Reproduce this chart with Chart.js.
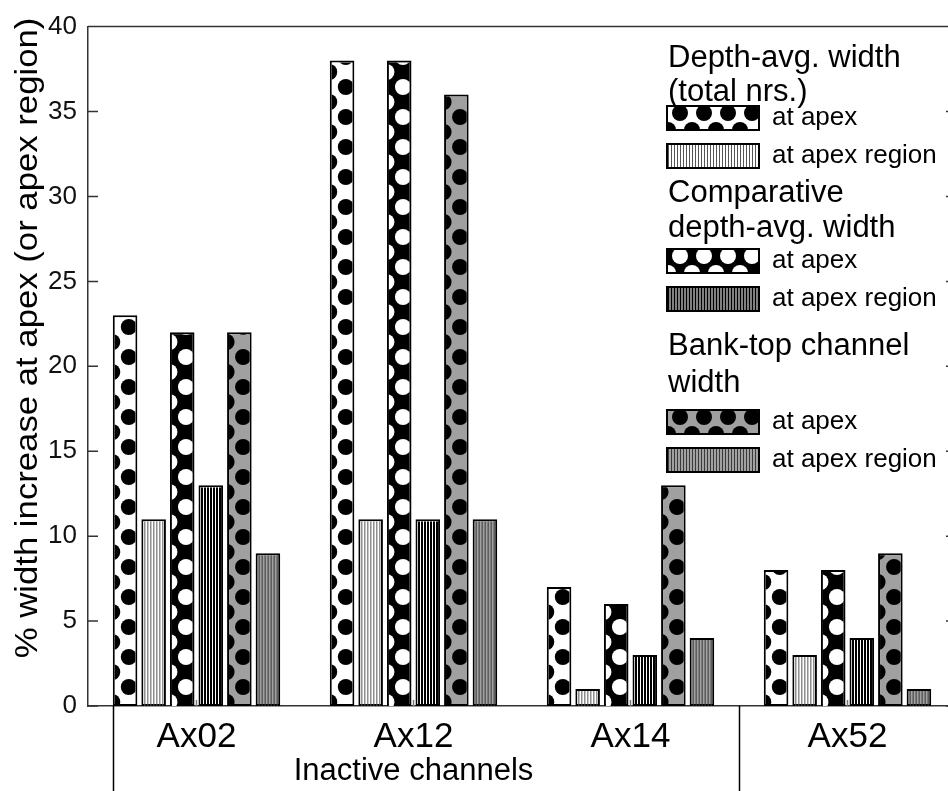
<!DOCTYPE html>
<html>
<head>
<meta charset="utf-8">
<script src="https://cdn.jsdelivr.net/npm/chart.js@4.4.1/dist/chart.umd.min.js"></script>
<style>
  html, body { margin: 0; padding: 0; background: #fff; overflow: hidden; }
  #wrap { width: 948px; height: 791px; overflow: hidden; }
  #box { width: 960px; height: 791px; position: relative; }
</style>
</head>
<body>
<div id="wrap"><div id="box"><canvas id="barChart"></canvas></div></div>
<script>
// values (% width increase)
const categories = ['Ax02', 'Ax12', 'Ax14', 'Ax52'];
const depthApex = [23, 38, 7, 8];
const depthRegion = [11, 11, 1, 3];
const compApex = [22, 38, 6, 8];
const compRegion = [13, 11, 3, 4];
const bankApex = [22, 36, 13, 9];
const bankRegion = [9, 11, 4, 1];

const yTitle = '% width increase at apex (or apex region)';
const groupTitle = 'Inactive channels';
const legendGroups = [
    ['Depth-avg. width', '(total nrs.)'],
    ['Comparative', 'depth-avg. width'],
    ['Bank-top channel', 'width']
];
const legendLabels = ['at apex', 'at apex region'];

const FONT = "'Liberation Sans', Arial, sans-serif";

// fill style for each series: dots or vertical hatching
const styles = [
    { bg: '#ffffff', kind: 'dots', fg: '#000000' },
    { bg: '#ffffff', kind: 'lines', fg: '#555555', lw: 1 },
    { bg: '#000000', kind: 'dots', fg: '#ffffff' },
    { bg: '#ffffff', kind: 'lines', fg: '#000000', lw: 2 },
    { bg: '#a0a0a0', kind: 'dots', fg: '#000000' },
    { bg: '#a0a0a0', kind: 'lines', fg: '#3a3a3a', lw: 1 }
];

// draw the pattern inside a bar (column layout)
function decorateBar(ctx, st, left, top, right, bottom) {
    ctx.save();
    ctx.beginPath();
    ctx.rect(left, top, right - left, bottom - top);
    ctx.clip();
    ctx.fillStyle = st.fg;
    if (st.kind === 'dots') {
        for (let yy = bottom - 19; yy > top - 20; yy -= 30) {
            ctx.beginPath();
            ctx.arc(left + 14, yy, 8, 0, Math.PI * 2);
            ctx.fill();
            ctx.beginPath();
            ctx.arc(left - 2.5, yy + 15, 8, 0, Math.PI * 2);
            ctx.fill();
        }
    } else {
        ctx.strokeStyle = st.fg;
        ctx.lineWidth = st.lw;
        for (let xx = left + 1.5; xx < right; xx += 3) {
            ctx.beginPath();
            ctx.moveTo(xx, top);
            ctx.lineTo(xx, bottom);
            ctx.stroke();
        }
    }
    ctx.restore();
}

// pattern in the legend swatches (row layout)
function decorateSwatch(ctx, st, x, y, w, h) {
    ctx.save();
    ctx.fillStyle = st.bg;
    ctx.fillRect(x, y, w, h);
    ctx.beginPath();
    ctx.rect(x, y, w, h);
    ctx.clip();
    ctx.fillStyle = st.fg;
    if (st.kind === 'dots') {
        for (let xx = x + 13; xx < x + w + 12; xx += 24) {
            ctx.beginPath();
            ctx.arc(xx, y + 7, 8, 0, Math.PI * 2);
            ctx.fill();
            ctx.beginPath();
            ctx.arc(xx - 12, y + h, 8, 0, Math.PI * 2);
            ctx.fill();
        }
    } else {
        ctx.strokeStyle = st.fg;
        ctx.lineWidth = st.lw;
        for (let xx = x + 1.5; xx < x + w; xx += 3) {
            ctx.beginPath();
            ctx.moveTo(xx, y);
            ctx.lineTo(xx, y + h);
            ctx.stroke();
        }
    }
    ctx.restore();
    ctx.strokeStyle = '#000';
    ctx.lineWidth = 2;
    ctx.strokeRect(x, y, w, h);
}

const decorPlugin = {
    id: 'decor',
    afterDatasetsDraw(chart) {
        const ctx = chart.ctx;
        chart.data.datasets.forEach((ds, i) => {
            const meta = chart.getDatasetMeta(i);
            meta.data.forEach(el => {
                const p = el.getProps(['x', 'y', 'base', 'width'], true);
                const bw = 2;
                decorateBar(ctx, styles[i], p.x - p.width / 2 + bw, p.y + bw,
                    p.x + p.width / 2 - bw, p.base);
            });
        });
    },
    afterDraw(chart) {
        const ctx = chart.ctx;
        const area = chart.chartArea;
        const ys = chart.scales.y;
        const xs = chart.scales.x;

        // box and inward ticks
        ctx.save();
        ctx.strokeStyle = '#333';
        ctx.lineWidth = 1.5;
        ctx.beginPath();
        ctx.moveTo(area.left, area.top);
        ctx.lineTo(area.right, area.top);
        ctx.lineTo(area.right, area.bottom);
        ys.ticks.forEach(t => {
            const py = ys.getPixelForValue(t.value);
            ctx.moveTo(area.left, py);
            ctx.lineTo(area.left + 10, py);
            ctx.moveTo(area.right, py);
            ctx.lineTo(area.right - 10, py);
        });
        ctx.stroke();
        ctx.strokeStyle = '#777';
        ctx.beginPath();
        categories.forEach((c, i) => {
            const px = xs.getPixelForValue(i);
            ctx.moveTo(px, area.bottom);
            ctx.lineTo(px, area.bottom - 6);
        });
        ctx.stroke();

        // group bracket lines under the axis
        const firstBar = chart.getDatasetMeta(0).data[0];
        const leftX = Math.round(firstBar.x - firstBar.width / 2) + 0.5;
        const sepX = Math.round(xs.getPixelForValue(2.5)) + 0.5;
        ctx.strokeStyle = '#000';
        ctx.lineWidth = 1.5;
        ctx.beginPath();
        ctx.moveTo(leftX, area.bottom);
        ctx.lineTo(leftX, chart.height);
        ctx.moveTo(sepX, area.bottom);
        ctx.lineTo(sepX, chart.height);
        ctx.stroke();
        ctx.restore();

        // group label
        ctx.save();
        ctx.fillStyle = '#000';
        ctx.font = '31px ' + FONT;
        ctx.textAlign = 'center';
        ctx.textBaseline = 'middle';
        ctx.fillText(groupTitle, xs.getPixelForValue(1), 771);

        // y title (a little stretched along its length, like the original)
        ctx.translate(28, 338);
        ctx.rotate(-Math.PI / 2);
        ctx.scale(1.12, 1);
        ctx.font = '31px ' + FONT;
        ctx.fillText(yTitle, 0, 0);
        ctx.restore();

        // legend
        ctx.save();
        ctx.fillStyle = '#000';
        ctx.textAlign = 'left';
        ctx.textBaseline = 'alphabetic';
        const titleBase = [[67, 101], [202, 237], [355, 392]];
        const swatchTop = [[106, 144], [249, 287], [410, 448]];
        legendGroups.forEach((g, gi) => {
            ctx.font = '31px ' + FONT;
            ctx.fillStyle = '#000';
            ctx.fillText(g[0], 668, titleBase[gi][0]);
            ctx.fillText(g[1], 668, titleBase[gi][1]);
            legendLabels.forEach((lab, li) => {
                const st = styles[gi * 2 + li];
                const top = swatchTop[gi][li];
                decorateSwatch(ctx, st, 667, top, 92, 24);
                ctx.font = '26px ' + FONT;
                ctx.fillStyle = '#000';
                ctx.textBaseline = 'middle';
                ctx.fillText(lab, 772, top + 12);
                ctx.textBaseline = 'alphabetic';
            });
        });
        ctx.restore();
    }
};

const seriesValues = [depthApex, depthRegion, compApex, compRegion, bankApex, bankRegion];
const seriesNames = ['Depth-avg. width at apex', 'Depth-avg. width at apex region',
    'Comparative at apex', 'Comparative at apex region',
    'Bank-top at apex', 'Bank-top at apex region'];

const ctx = document.getElementById('barChart').getContext('2d');
new Chart(ctx, {
    type: 'bar',
    data: {
        labels: categories,
        datasets: seriesValues.map((vals, i) => ({
            label: seriesNames[i],
            data: vals,
            backgroundColor: styles[i].bg,
            borderColor: '#000',
            borderWidth: 2,
            borderSkipped: false,
            barPercentage: 0.86,
            categoryPercentage: 0.79
        }))
    },
    options: {
        responsive: true,
        maintainAspectRatio: false,
        animation: false,
        layout: { padding: { left: 0, right: 4, top: 20, bottom: 0 } },
        plugins: {
            legend: { display: false },
            tooltip: { enabled: false }
        },
        scales: {
            x: {
                grid: { display: false, drawTicks: false },
                border: { display: true, color: '#333', width: 1.5 },
                ticks: {
                    color: '#000',
                    padding: 10,
                    font: { family: FONT, size: 35 }
                },
                afterFit(scale) { scale.height = 85; }
            },
            y: {
                min: 0,
                max: 40,
                grid: { display: false, drawTicks: false },
                border: { display: true, color: '#333', width: 1.5 },
                ticks: {
                    stepSize: 5,
                    color: '#111',
                    padding: 11,
                    font: { family: FONT, size: 26 }
                },
                afterFit(scale) { scale.width = 88; }
            }
        }
    },
    plugins: [decorPlugin]
});
</script>
</body>
</html>
